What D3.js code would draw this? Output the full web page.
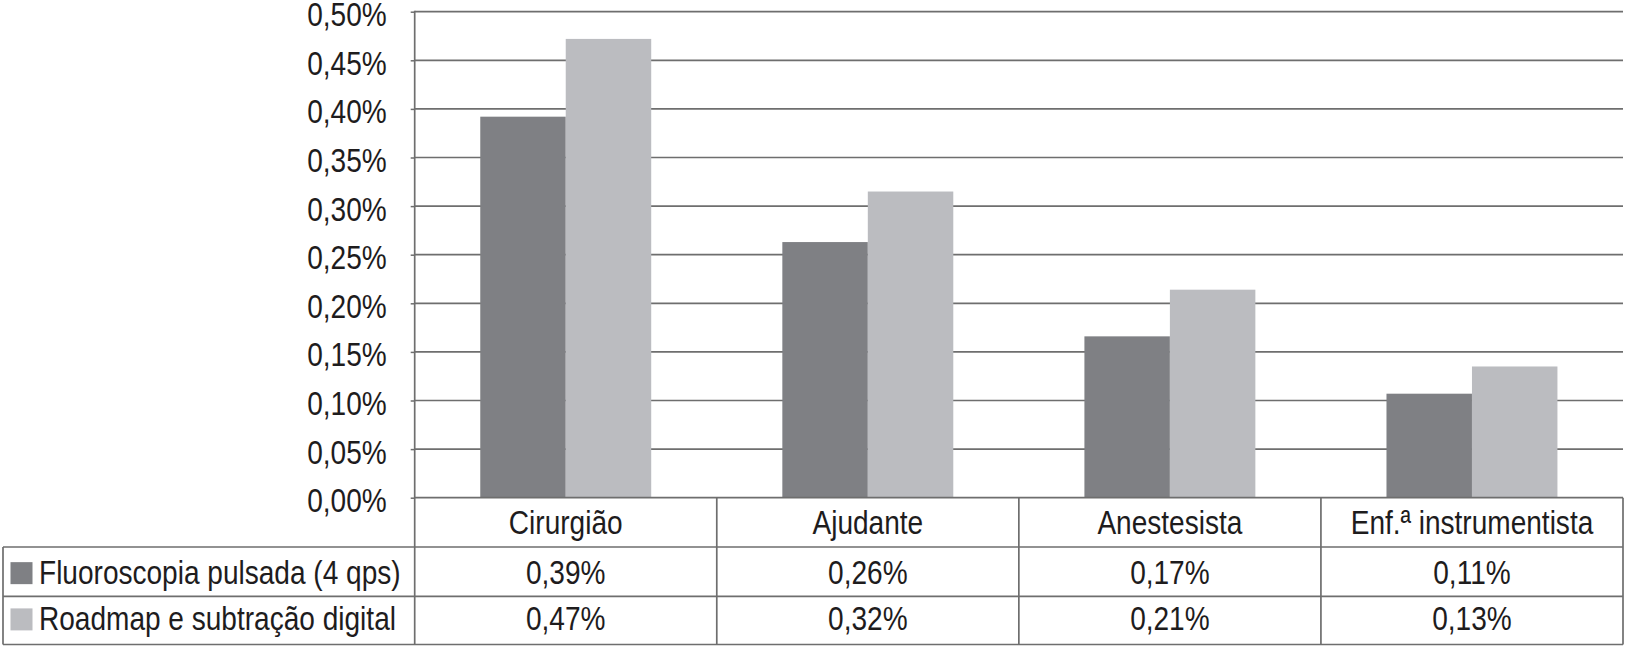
<!DOCTYPE html>
<html>
<head>
<meta charset="utf-8">
<script src="https://cdn.jsdelivr.net/npm/d3@7"></script>
<style>
  html, body { margin: 0; padding: 0; background: #ffffff; }
  svg { display: block; }
  text { font-family: "Liberation Sans", Arial, sans-serif; fill: #1e1c1d; }
</style>
</head>
<body>
<svg id="chart" width="1626" height="646"></svg>
<script>
// ---- data ----
const categories = ["Cirurgião", "Ajudante", "Anestesista", "Enf.ª instrumentista"];
const seriesNames = ["Fluoroscopia pulsada (4 qps)", "Roadmap e subtração digital"];
const fluoroValues = [0.392, 0.263, 0.166, 0.107];
const roadmapValues = [0.472, 0.315, 0.214, 0.135];
const fluoroLabels = ["0,39%", "0,26%", "0,17%", "0,11%"];
const roadmapLabels = ["0,47%", "0,32%", "0,21%", "0,13%"];
const yTicks = [0, 0.05, 0.10, 0.15, 0.20, 0.25, 0.30, 0.35, 0.40, 0.45, 0.50];

(function () {
const seriesValues = [fluoroValues, roadmapValues];
const seriesLabels = [fluoroLabels, roadmapLabels];
const seriesColors = ["#7f8084", "#bbbcc0"];

// ---- layout ----
const svg = d3.select("#chart");
const plotLeft = 414.7, plotRight = 1623, plotTop = 11.7, base = 497.7;
const rowLines = [base, 547, 596.3, 644.5];
const tableLeft = 3;
const fontSize = 34;
const squeeze = 0.825; // condensed look
const lineColor = "#6e6e6e";

const x0 = d3.scaleBand().domain(categories).range([plotLeft, plotRight]).paddingInner(0).paddingOuter(0);
const x1 = d3.scaleBand().domain(seriesNames).range([0, x0.bandwidth()]).paddingInner(0).paddingOuter(0.767);
const y = d3.scaleLinear().domain([0, 0.5]).range([base, plotTop]);
const fmt = v => d3.format(".2f")(v).replace(".", ",") + "%";

function placeText(sel, fx, fy) {
  sel.attr("x", 0).attr("y", 0)
    .attr("transform", (d, i) => `translate(${fx(d, i)},${fy(d, i)}) scale(${squeeze},1)`)
    .style("font-size", fontSize + "px");
}

// gridlines
svg.append("g").selectAll("line").data(yTicks.filter(t => t > 0)).join("line")
  .attr("x1", plotLeft).attr("x2", plotRight)
  .attr("y1", d => y(d)).attr("y2", d => y(d))
  .attr("stroke", lineColor).attr("stroke-width", 1.7);

// y axis
const yAxis = d3.axisLeft(y).tickValues(yTicks).tickFormat(fmt).tickSize(4).tickPadding(24);
const gy = svg.append("g").attr("transform", `translate(${plotLeft},0)`).call(yAxis);
gy.select(".domain").remove();
gy.selectAll(".tick line").attr("stroke", lineColor).attr("stroke-width", 1.5);
gy.selectAll(".tick text")
  .attr("fill", "#1e1c1d")
  .attr("dy", null)
  .style("font-family", '"Liberation Sans", Arial, sans-serif')
  .call(placeText, () => -28, () => 14);

// bars
const groups = svg.append("g").selectAll("g").data(seriesNames).join("g")
  .attr("fill", (d, i) => seriesColors[i]);
groups.selectAll("rect").data((s, si) => categories.map((c, ci) => ({ c, s, v: seriesValues[si][ci] }))).join("rect")
  .attr("x", d => x0(d.c) + x1(d.s))
  .attr("width", x1.bandwidth())
  .attr("y", d => y(d.v))
  .attr("height", d => y(0) - y(d.v));

// axis line
svg.append("line").attr("x1", plotLeft).attr("x2", plotLeft).attr("y1", plotTop - 1).attr("y2", rowLines[3])
  .attr("stroke", lineColor).attr("stroke-width", 1.7);

// ---- data table ----
const tg = svg.append("g");
rowLines.forEach((ry, i) => {
  tg.append("line").attr("x1", i === 0 ? plotLeft : tableLeft).attr("x2", plotRight)
    .attr("y1", ry).attr("y2", ry).attr("stroke", lineColor).attr("stroke-width", 1.7);
});
categories.forEach(c => {
  tg.append("line").attr("x1", x0(c) + x0.bandwidth()).attr("x2", x0(c) + x0.bandwidth())
    .attr("y1", base).attr("y2", rowLines[3]).attr("stroke", lineColor).attr("stroke-width", 1.7);
});
tg.append("line").attr("x1", tableLeft).attr("x2", tableLeft)
  .attr("y1", rowLines[1]).attr("y2", rowLines[3]).attr("stroke", lineColor).attr("stroke-width", 1.7);

// category labels
tg.selectAll("text.cat").data(categories).join("text").attr("class", "cat")
  .attr("text-anchor", "middle")
  .text(c => c)
  .call(placeText, c => x0(c) + x0.bandwidth() / 2, () => (rowLines[0] + rowLines[1]) / 2 + 11.5);

// series rows
seriesNames.forEach((s, si) => {
  const cy = (rowLines[si + 1] + rowLines[si + 2]) / 2;
  const by = cy + (si === 0 ? 12.5 : 10);
  tg.append("rect").attr("x", 10.5).attr("y", by - 22).attr("width", 22).attr("height", 22)
    .attr("fill", seriesColors[si]);
  tg.append("text").datum(s).text(s).call(placeText, () => 39, () => by);
  tg.selectAll("text.v" + si).data(categories).join("text").attr("class", "v" + si)
    .attr("text-anchor", "middle")
    .text((c, ci) => seriesLabels[si][ci])
    .call(placeText, c => x0(c) + x0.bandwidth() / 2, () => by);
});
})();
</script>
</body>
</html>
